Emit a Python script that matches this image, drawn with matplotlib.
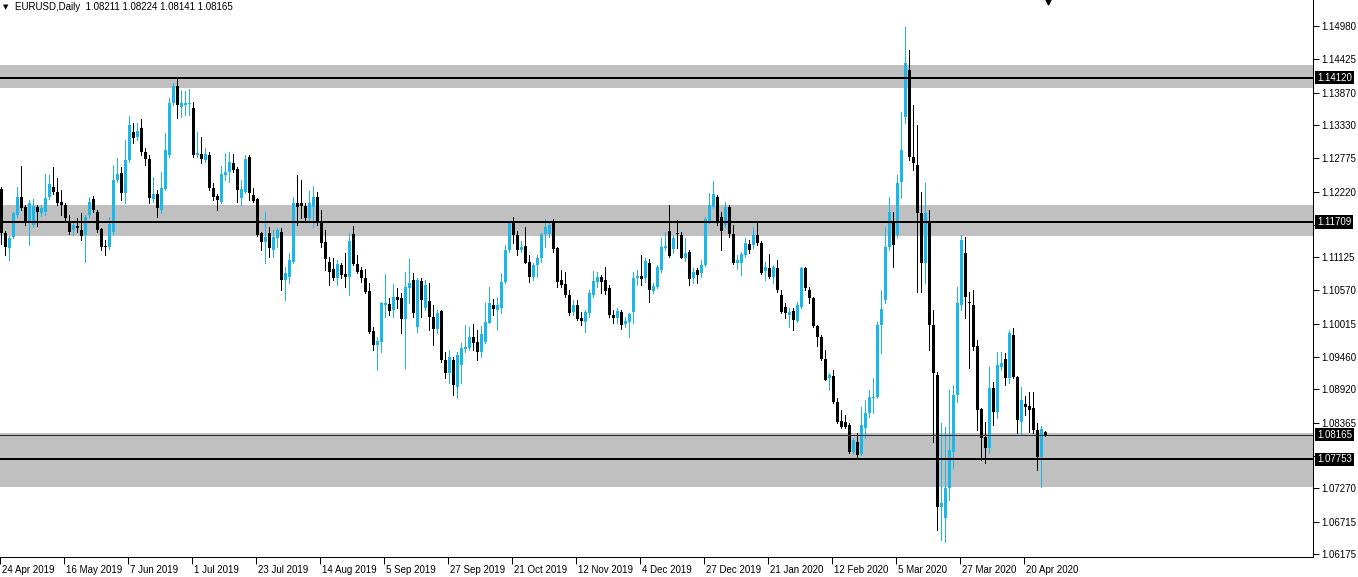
import matplotlib
matplotlib.use("Agg")
import matplotlib.pyplot as plt
import matplotlib.transforms as mtransforms
import numpy as np

# ---------------- data (EURUSD daily) ----------------
opens = [
1.1226,1.1153,1.1128,1.1146,1.1183,1.1213,1.1196,1.1171,1.1166,1.1196,
1.1186,1.1188,1.1213,1.1230,1.1221,1.1205,1.1200,1.1171,1.1158,1.1165,
1.1158,1.1150,1.1183,1.1210,1.1188,1.1160,1.1132,1.1129,1.1155,1.1241,
1.1253,1.1220,1.1275,1.1321,1.1313,1.1328,1.1288,1.1276,1.1210,1.1218,
1.1191,1.1226,1.1283,1.1370,1.1398,1.1363,1.1366,1.1368,1.1361,1.1283,
1.1285,1.1275,1.1283,1.1228,1.1215,1.1205,1.1250,1.1255,1.1270,1.1260,
1.1211,1.1221,1.1280,1.1216,1.1210,1.1153,1.1138,1.1153,1.1125,1.1145,
1.1155,1.1075,1.1080,1.1105,1.1203,1.1203,1.1198,1.1178,1.1196,1.1213,
1.1171,1.1138,1.1105,1.1093,1.1078,1.1100,1.1085,1.1080,1.1151,1.1101,
1.1091,1.1078,1.1056,1.0990,1.0966,1.0971,1.1033,1.1035,1.1025,1.1046,
1.1045,1.1010,1.1061,1.1075,1.0996,1.1073,1.1028,1.1039,1.1013,1.0993,
1.1023,1.0941,1.0920,1.0941,1.0896,1.0933,1.0960,1.0961,1.0979,1.0971,
1.0954,1.0971,1.1003,1.1033,1.1025,1.1028,1.1071,1.1125,1.1170,1.1150,
1.1125,1.1131,1.1105,1.1080,1.1100,1.1111,1.1151,1.1151,1.1170,1.1128,
1.1075,1.1068,1.1050,1.1021,1.1033,1.1011,1.1005,1.1020,1.1050,1.1071,
1.1080,1.1075,1.1061,1.1016,1.1011,1.1021,1.1001,1.1005,1.1021,1.1078,
1.1081,1.1078,1.1103,1.1056,1.1063,1.1091,1.1128,1.1156,1.1126,1.1153,
1.1150,1.1111,1.1121,1.1078,1.1091,1.1086,1.1100,1.1171,1.1196,1.1213,
1.1180,1.1166,1.1196,1.1151,1.1103,1.1103,1.1116,1.1135,1.1133,1.1150,
1.1136,1.1090,1.1095,1.1080,1.1095,1.1050,1.1030,1.1016,1.1023,1.1006,
1.1030,1.1095,1.1058,1.1045,1.0998,1.0980,1.0943,1.0911,1.0914,1.0871,
1.0839,1.0838,1.0833,1.0788,1.0804,1.0784,1.0828,1.0853,1.0878,1.0879,
1.1000,1.1041,1.1130,1.1171,1.1150,1.1238,1.1346,1.1425,1.1280,1.1266,
1.1186,1.1103,1.1170,1.1000,1.0916,1.0696,1.0677,1.0727,1.0788,1.0883,
1.1033,1.1120,1.1038,1.1033,1.0964,1.0859,1.0813,1.0794,1.0894,1.0854,
1.0929,1.0943,1.0911,1.0983,1.0913,1.0838,1.0868,1.0864,1.0861,1.0824,
1.0779,1.08211]

highs = [
1.1229,1.1156,1.1148,1.1188,1.1229,1.1264,1.1200,1.1208,1.1209,1.1200,
1.1200,1.1251,1.1250,1.1263,1.1245,1.1225,1.1203,1.1183,1.1171,1.1178,
1.1186,1.1183,1.1213,1.1215,1.1191,1.1161,1.1141,1.1180,1.1266,1.1278,
1.1263,1.1308,1.1348,1.1336,1.1336,1.1343,1.1295,1.1283,1.1246,1.1225,
1.1255,1.1320,1.1378,1.1403,1.1413,1.1391,1.1390,1.1393,1.1371,1.1321,
1.1313,1.1295,1.1288,1.1236,1.1218,1.1264,1.1286,1.1288,1.1285,1.1263,
1.1241,1.1283,1.1283,1.1228,1.1211,1.1155,1.1188,1.1163,1.1158,1.1161,
1.1161,1.1096,1.1120,1.1213,1.1250,1.1241,1.1203,1.1223,1.1231,1.1221,
1.1191,1.1158,1.1113,1.1111,1.1108,1.1103,1.1120,1.1153,1.1165,1.1116,
1.1096,1.1093,1.1070,1.0996,1.0980,1.1038,1.1084,1.1045,1.1068,1.1061,
1.1053,1.1088,1.1110,1.1086,1.1078,1.1078,1.1075,1.1070,1.1033,1.1025,
1.1025,1.0954,1.0958,1.0946,1.0954,1.0970,1.1000,1.0996,1.1001,1.0991,
1.0998,1.1036,1.1063,1.1043,1.1046,1.1086,1.1133,1.1171,1.1180,1.1156,
1.1140,1.1163,1.1116,1.1103,1.1116,1.1153,1.1176,1.1173,1.1176,1.1130,
1.1091,1.1088,1.1058,1.1041,1.1041,1.1021,1.1025,1.1058,1.1090,1.1088,
1.1083,1.1096,1.1066,1.1025,1.1028,1.1025,1.1013,1.1020,1.1088,1.1091,
1.1116,1.1111,1.1110,1.1070,1.1100,1.1145,1.1155,1.1200,1.1150,1.1175,
1.1155,1.1145,1.1125,1.1095,1.1095,1.1108,1.1180,1.1220,1.1240,1.1216,
1.1188,1.1205,1.1200,1.1166,1.1116,1.1121,1.1145,1.1141,1.1163,1.1171,
1.1140,1.1105,1.1118,1.1100,1.1108,1.1058,1.1036,1.1028,1.1028,1.1038,
1.1096,1.1096,1.1063,1.1046,1.1000,1.0983,1.0958,1.0920,1.0924,1.0878,
1.0858,1.0849,1.0836,1.0811,1.0819,1.0863,1.0874,1.0891,1.0911,1.1004,
1.1058,1.1163,1.1213,1.1188,1.1250,1.1355,1.1496,1.1458,1.1366,1.1333,
1.1221,1.1236,1.1191,1.1025,1.0921,1.0836,1.0829,1.0891,1.0899,1.1063,
1.1150,1.1146,1.1055,1.1058,1.0975,1.0861,1.0838,1.0929,1.0904,1.0954,
1.0954,1.0953,1.0991,1.0994,1.0914,1.0896,1.0881,1.0888,1.0888,1.0836,
1.0831,1.08224]

lows = [
1.1134,1.1116,1.1108,1.1145,1.1179,1.1191,1.1166,1.1133,1.1163,1.1164,
1.1181,1.1183,1.1209,1.1218,1.1200,1.1183,1.1175,1.1151,1.1150,1.1155,
1.1141,1.1104,1.1180,1.1188,1.1155,1.1125,1.1116,1.1126,1.1151,1.1238,
1.1208,1.1203,1.1271,1.1303,1.1308,1.1283,1.1266,1.1203,1.1205,1.1180,
1.1186,1.1225,1.1280,1.1366,1.1344,1.1346,1.1350,1.1350,1.1280,1.1280,
1.1269,1.1271,1.1225,1.1208,1.1191,1.1203,1.1241,1.1238,1.1255,1.1205,
1.1200,1.1220,1.1208,1.1205,1.1148,1.1125,1.1103,1.1113,1.1113,1.1130,
1.1058,1.1041,1.1070,1.1103,1.1166,1.1178,1.1175,1.1175,1.1163,1.1166,
1.1129,1.1091,1.1066,1.1075,1.1066,1.1078,1.1063,1.1050,1.1100,1.1086,
1.1071,1.1053,1.0986,1.0958,1.0924,1.0954,1.1013,1.1016,1.1013,1.1028,
1.0986,1.0928,1.1036,1.1013,1.0988,1.1013,1.1025,1.0991,1.0966,1.0986,
1.0938,1.0911,1.0903,1.0883,1.0878,1.0903,1.0954,1.0958,1.0958,1.0941,
1.0946,1.0969,1.1003,1.1016,1.0991,1.1020,1.1070,1.1121,1.1136,1.1116,
1.1121,1.1103,1.1071,1.1075,1.1080,1.1105,1.1130,1.1146,1.1121,1.1063,
1.1063,1.1046,1.1016,1.1016,1.1008,1.1000,1.0988,1.1013,1.1046,1.1063,
1.1053,1.1051,1.1013,1.1003,1.1003,1.0993,1.0996,1.0980,1.1003,1.1066,
1.1066,1.1071,1.1038,1.1053,1.1061,1.1088,1.1125,1.1113,1.1120,1.1128,
1.1111,1.1106,1.1066,1.1070,1.1070,1.1080,1.1098,1.1170,1.1195,1.1166,
1.1125,1.1163,1.1146,1.1101,1.1093,1.1083,1.1113,1.1120,1.1128,1.1133,
1.1085,1.1075,1.1078,1.1070,1.1055,1.1020,1.1011,1.0996,1.0991,1.1005,
1.1028,1.1058,1.1036,1.0996,1.0965,1.0941,1.0908,1.0891,1.0869,1.0836,
1.0828,1.0828,1.0786,1.0784,1.0779,1.0783,1.0811,1.0846,1.0853,1.0878,
1.0953,1.1036,1.1125,1.1096,1.1146,1.1211,1.1336,1.1275,1.1258,1.1055,
1.1055,1.1070,1.0958,1.0804,1.0657,1.0641,1.0637,1.0707,1.0761,1.0871,
1.1025,1.1011,1.0928,1.0958,1.0824,1.0774,1.0769,1.0786,1.0833,1.0844,
1.0924,1.0899,1.0903,1.0911,1.0819,1.0816,1.0849,1.0821,1.0819,1.0758,
1.0729,1.08141]

closes = [
1.1153,1.1129,1.1145,1.1186,1.1213,1.1195,1.1171,1.1203,1.1198,1.1188,
1.1195,1.1211,1.1235,1.1221,1.1203,1.1200,1.1178,1.1155,1.1166,1.1161,
1.1148,1.1180,1.1205,1.1191,1.1158,1.1129,1.1129,1.1168,1.1241,1.1251,
1.1220,1.1275,1.1333,1.1311,1.1323,1.1288,1.1276,1.1211,1.1218,1.1195,
1.1228,1.1291,1.1370,1.1398,1.1366,1.1370,1.1370,1.1370,1.1283,1.1286,
1.1276,1.1285,1.1228,1.1213,1.1208,1.1251,1.1255,1.1271,1.1258,1.1225,
1.1226,1.1276,1.1220,1.1206,1.1150,1.1138,1.1146,1.1128,1.1146,1.1158,
1.1075,1.1086,1.1108,1.1203,1.1196,1.1198,1.1178,1.1203,1.1213,1.1171,
1.1136,1.1110,1.1088,1.1078,1.1101,1.1083,1.1080,1.1140,1.1101,1.1088,
1.1078,1.1055,1.0988,1.0966,1.0973,1.1036,1.1036,1.1023,1.1046,1.1041,
1.1010,1.1063,1.1070,1.1020,1.1075,1.1041,1.1066,1.1013,1.0993,1.1020,
1.0941,1.0919,1.0946,1.0899,1.0950,1.0961,1.0963,1.0979,1.0969,1.0954,
1.0985,1.1005,1.1036,1.1026,1.1033,1.1071,1.1125,1.1170,1.1150,1.1125,
1.1130,1.1103,1.1080,1.1100,1.1111,1.1151,1.1163,1.1166,1.1126,1.1071,
1.1066,1.1050,1.1020,1.1033,1.1010,1.1006,1.1021,1.1053,1.1073,1.1080,
1.1071,1.1056,1.1016,1.1011,1.1023,1.1000,1.1006,1.1018,1.1078,1.1081,
1.1076,1.1106,1.1058,1.1065,1.1096,1.1130,1.1131,1.1115,1.1145,1.1151,
1.1111,1.1120,1.1076,1.1088,1.1083,1.1100,1.1176,1.1200,1.1218,1.1171,
1.1156,1.1196,1.1151,1.1103,1.1108,1.1118,1.1136,1.1125,1.1150,1.1136,
1.1086,1.1096,1.1080,1.1096,1.1058,1.1021,1.1020,1.1021,1.1008,1.1033,
1.1095,1.1061,1.1045,1.0998,1.0980,1.0943,1.0908,1.0916,1.0871,1.0838,
1.0829,1.0829,1.0788,1.0808,1.0783,1.0833,1.0853,1.0879,1.0880,1.1000,
1.1026,1.1130,1.1188,1.1133,1.1236,1.1291,1.1436,1.1280,1.1270,1.1186,
1.1103,1.1186,1.1000,1.0919,1.0696,1.0702,1.0727,1.0791,1.0883,1.1036,
1.1141,1.1046,1.1036,1.0963,1.0858,1.0811,1.0794,1.0894,1.0854,1.0933,
1.0936,1.0911,1.0986,1.0913,1.0841,1.0874,1.0863,1.0858,1.0824,1.0779,
1.0826,1.08165]

date_labels = ["24 Apr 2019", "16 May 2019", "7 Jun 2019", "1 Jul 2019",
               "23 Jul 2019", "14 Aug 2019", "5 Sep 2019", "27 Sep 2019",
               "21 Oct 2019", "12 Nov 2019", "4 Dec 2019", "27 Dec 2019",
               "21 Jan 2020", "12 Feb 2020", "5 Mar 2020", "27 Mar 2020",
               "20 Apr 2020"]
label_every = 16  # bars between date labels

price_ticks = [1.06175, 1.06715, 1.07270, 1.07810, 1.08365, 1.08920, 1.09460,
               1.10015, 1.10570, 1.11125, 1.11665, 1.12220, 1.12775, 1.13330,
               1.13870, 1.14425, 1.14980]
hidden_ticks = [1.07810, 1.11665]

zones = [(1.13946, 1.14330), (1.11484, 1.11996), (1.07293, 1.08193)]
level_lines = [1.14120, 1.11709, 1.07753]
current_price = 1.08165
header = "EURUSD,Daily  1.08211 1.08224 1.08141 1.08165"

# ---------------- figure ----------------
W, H = 1358, 577
fig = plt.figure(figsize=(W / 100, H / 100), dpi=100)
ax_left, ax_right, ax_top, ax_bottom = 0, 1313, 0, 557
ax = fig.add_axes([ax_left / W, (H - ax_bottom) / H,
                   (ax_right - ax_left) / W, (ax_bottom - ax_top) / H])

font = ["Liberation Sans", "DejaVu Sans"]
px = 0.72  # one pixel in points

o = np.array(opens); h = np.array(highs); l = np.array(lows); c = np.array(closes)
x = np.arange(len(o))
bull = c >= o
col_up, col_dn = "#1BB6EA", "#000000"
colors = np.where(bull, col_up, col_dn)

# zones (background)
for lo_, hi_ in zones:
    ax.axhspan(lo_, hi_, color="#C0C0C0", zorder=0, lw=0)

# candles
ax.vlines(x, l, h, colors=colors, lw=1 * px, zorder=3, antialiased=False)
body_lo = np.minimum(o, c)
body_h = np.maximum(np.abs(c - o), 0.00017)
ax.bar(x, body_h, bottom=body_lo, width=0.75, color=colors, lw=0, zorder=4,
       antialiased=False)

# horizontal levels
for lv in level_lines:
    ax.axhline(lv, color="black", lw=2 * px, zorder=5)
ax.axhline(current_price, color="#2a2a2a", lw=1 * px, zorder=5)

# axes limits: 4 px per bar
ax.set_xlim(-0.25, -0.25 + (ax_right - ax_left) / 4)
ax.set_ylim(1.15414 - 557 * 0.00016676, 1.15414)

# spines
for s in ["top", "left"]:
    ax.spines[s].set_visible(False)
for s in ["right", "bottom"]:
    ax.spines[s].set_linewidth(1 * px)
    ax.spines[s].set_color("black")

# y axis on right
ax.yaxis.tick_right()
ax.set_yticks(price_ticks)
ax.set_yticklabels(["" if t in hidden_ticks else f"{t:.5f}" for t in price_ticks],
                   fontsize=7, family=font)
ax.tick_params(axis="y", direction="out", length=4, width=1 * px, pad=2,
               colors="black")

# x axis dates
ax.set_xticks([i * label_every - 0.25 for i in range(len(date_labels))])
ax.set_xticklabels(date_labels, fontsize=7, family=font)
ax.tick_params(axis="x", direction="out", length=5, width=1 * px, pad=1,
               colors="black")
offset = mtransforms.ScaledTranslation(1.5 / 100, 0, fig.dpi_scale_trans)
for lbl in ax.get_xticklabels():
    lbl.set_ha("left")
    lbl.set_transform(lbl.get_transform() + offset)

# price boxes on right axis
btrans = mtransforms.blended_transform_factory(ax.transAxes, ax.transData)
for lv in level_lines + [current_price]:
    ax.text(1 + 4 / (ax_right - ax_left), lv, f"{lv:.5f}", transform=btrans,
            ha="left", va="center", fontsize=7, family=font, color="white",
            zorder=10, clip_on=False,
            bbox=dict(boxstyle="square,pad=0.18", fc="black", ec="black", lw=0))

# header
fig.text(3 / W, 1 - 7 / H, "\u25BC", fontsize=5, family=["DejaVu Sans"],
         ha="left", va="center", color="black")
fig.text(15 / W, 1 - 7 / H, header, fontsize=7, family=font,
         ha="left", va="center", color="black")

# chart shift marker
ax.scatter([1048 / (ax_right - ax_left)], [1.0], marker="v", s=40,
           color="black", transform=ax.transAxes, clip_on=False, zorder=10)

fig.savefig("out.png", dpi=100)
